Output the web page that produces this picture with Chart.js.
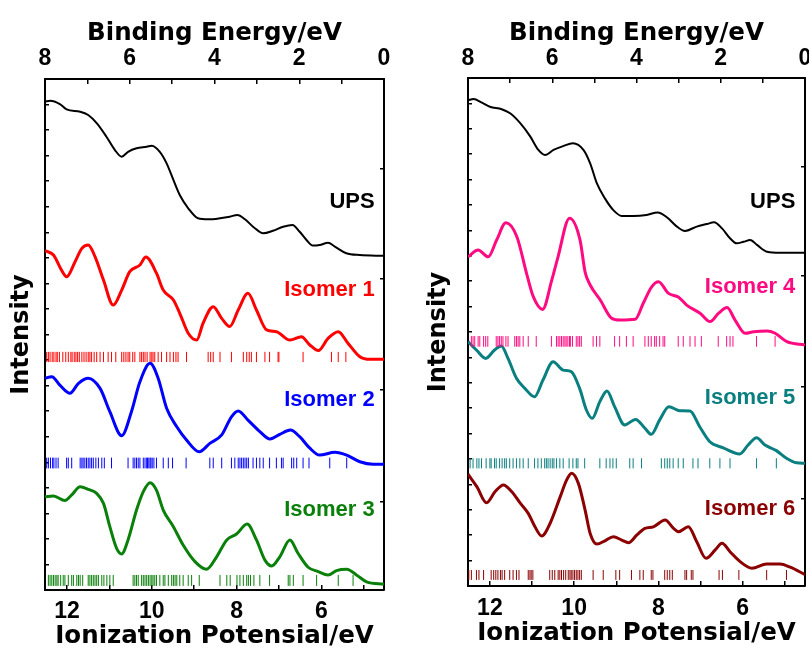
<!DOCTYPE html>
<html><head><meta charset="utf-8">
<script src="https://cdn.jsdelivr.net/npm/chart.js@4"></script>
<style>
html,body{margin:0;padding:0;background:#fff;overflow:hidden;width:809px;height:650px;position:relative;}
canvas{position:absolute;top:0;}
#cL{left:0;}
#cR{left:418px;}
</style></head><body>
<canvas id="cL" width="400" height="650"></canvas>
<canvas id="cR" width="403" height="650"></canvas>
<script>
// ---------- axis definitions ----------
const IP_MIN = 4.52, IP_MAX = 12.52;           // Ionization potential range (eV)
const ipTicks = [5, 6, 7, 8, 9, 10, 11, 12];
const beTicks = [0, 1, 2, 3, 4, 5, 6, 7, 8];    // Binding energy ticks (eV)
const intensityTicks = [0,1,2,3,4,5,6,7,8,9,10,11,12,13,14,15,16,17,18,19,20];
const rightAxisTicks = [3.44, 7.83, 12.2, 16.5];

// ---------- left panel ----------
const upsL_ip  = [12.52,12.40,12.17,12.01,11.69,11.50,11.30,11.07,10.87,10.71,10.56,10.36,10.12,10.00,9.81,9.65,9.49,9.34,9.14,8.91,8.67,8.39,8.16,7.98,7.80,7.61,7.37,7.14,6.90,6.68,6.51,6.35,6.20,6.04,5.84,5.68,5.41,5.09,4.52];
const upsL_int = [19.11,19.15,19.02,18.81,18.72,18.59,18.27,17.74,17.22,16.96,17.15,17.29,17.35,17.39,17.15,16.70,16.05,15.46,14.94,14.55,14.51,14.55,14.61,14.68,14.51,14.22,13.96,14.06,14.22,14.29,14.02,13.70,13.48,13.50,13.59,13.44,13.18,13.11,13.08];

const iso1_ip  = [12.52,12.32,12.13,12.01,11.81,11.65,11.50,11.34,11.14,10.91,10.71,10.52,10.28,10.14,9.89,9.73,9.49,9.34,9.14,8.94,8.79,8.55,8.35,8.16,7.96,7.73,7.53,7.29,7.06,6.74,6.47,6.27,6.07,5.84,5.60,5.37,5.09,4.85,4.52];
const iso1_int = [13.28,13.11,12.52,12.26,12.85,13.37,13.50,13.05,12.13,11.15,11.74,12.46,12.72,13.03,12.40,11.74,11.35,10.83,10.05,9.78,10.44,11.09,10.63,10.31,10.96,11.61,10.96,10.18,10.11,9.78,9.91,9.59,9.37,9.85,10.11,9.66,9.13,9.03,9.03];
const iso1Sticks = [12.48,12.44,12.40,12.35,12.31,12.26,12.23,12.18,12.10,12.03,11.97,11.91,11.88,11.83,11.79,11.75,11.71,11.65,11.60,11.55,11.50,11.46,11.42,11.36,11.30,11.22,11.14,11.03,10.95,10.85,10.71,10.66,10.61,10.56,10.52,10.45,10.40,10.28,10.24,10.20,10.16,10.11,10.04,10.00,9.97,9.93,9.85,9.77,9.65,9.57,9.49,9.43,9.38,9.18,8.67,8.61,8.55,8.39,8.12,7.84,7.76,7.70,7.65,7.53,7.33,7.22,7.02,7.00,6.43,5.76,5.60,5.42];
const iso1StickSpan = [8.92, 9.32];

const iso2_ip  = [12.52,12.36,12.17,11.93,11.73,11.50,11.22,10.99,10.71,10.48,10.28,10.04,9.85,9.65,9.41,9.18,8.88,8.63,8.35,8.12,7.96,7.73,7.45,7.21,6.98,6.73,6.51,6.27,6.04,5.68,5.40,5.09,4.78,4.52];
const iso2_int = [8.29,8.35,8.02,7.70,8.09,8.29,7.89,6.98,6.04,6.98,8.15,8.87,8.29,7.11,6.39,5.87,5.41,5.74,6.07,6.78,7.01,6.65,6.20,5.91,6.09,6.26,6.00,5.55,5.28,5.39,5.28,5.02,4.92,4.92];
const iso2Sticks = [12.48,12.44,12.39,12.34,12.31,12.26,12.21,12.01,11.97,11.89,11.69,11.65,11.62,11.58,11.54,11.50,11.46,11.42,11.38,11.32,11.26,11.18,11.12,10.95,10.56,10.44,10.40,10.36,10.32,10.28,10.20,10.16,10.12,10.10,10.07,10.04,10.02,9.99,9.95,9.89,9.73,9.61,9.51,9.19,8.63,8.55,8.35,8.12,8.04,7.96,7.92,7.88,7.84,7.80,7.76,7.72,7.61,7.53,7.45,7.37,7.22,7.06,6.94,6.90,6.70,6.65,6.58,6.43,6.29,5.80,5.40];
const iso2StickSpan = [4.76, 5.18];

const iso3_ip  = [12.52,12.32,12.05,11.89,11.69,11.50,11.30,11.14,10.99,10.83,10.71,10.56,10.36,10.20,10.04,9.89,9.73,9.49,9.26,8.98,8.71,8.47,8.23,8.00,7.75,7.53,7.33,7.17,6.98,6.74,6.55,6.31,6.07,5.84,5.64,5.40,5.17,4.93,4.52];
const iso3_int = [3.65,3.68,3.50,3.72,4.04,3.94,3.78,3.39,2.48,1.63,1.41,1.96,3.13,3.85,4.20,3.91,3.13,2.48,1.76,1.11,0.81,1.30,1.96,2.19,2.58,1.96,1.17,0.94,1.30,1.96,1.44,0.89,0.72,0.59,0.76,0.81,0.59,0.32,0.23];
const iso3Sticks = [12.44,12.40,12.36,12.32,12.28,12.24,12.21,12.15,12.09,12.05,11.97,11.89,11.85,11.77,11.73,11.69,11.63,11.50,11.46,11.42,11.38,11.34,11.30,11.26,11.18,11.13,11.06,10.99,10.91,10.44,10.40,10.36,10.32,10.24,10.20,10.16,10.12,10.08,10.04,10.00,9.97,9.93,9.89,9.81,9.73,9.69,9.61,9.53,9.49,9.45,9.41,9.34,9.26,9.14,9.06,8.88,8.39,8.23,8.15,7.99,7.92,7.84,7.76,7.72,7.67,7.59,7.45,7.22,6.78,6.74,6.66,6.43,6.11,5.60,5.25];
const iso3StickSpan = [0.16, 0.59];

// ---------- right panel ----------
const upsR_ip  = [12.52,12.39,12.19,12.00,11.72,11.52,11.28,11.04,10.85,10.69,10.49,10.26,10.03,9.78,9.62,9.46,9.27,9.07,8.87,8.59,8.28,8.02,7.80,7.56,7.37,7.09,6.85,6.68,6.49,6.30,6.14,5.98,5.82,5.66,5.42,5.11,4.52];
const upsR_int = [19.13,19.17,19.03,18.87,18.77,18.61,18.22,17.69,17.17,16.97,17.17,17.32,17.43,17.17,16.64,15.85,15.26,14.80,14.57,14.57,14.61,14.70,14.52,14.15,13.98,14.15,14.25,14.32,14.08,13.69,13.49,13.55,13.62,13.43,13.16,13.12,13.12];

const iso4_ip  = [12.52,12.28,12.04,11.84,11.62,11.36,11.13,10.97,10.75,10.53,10.39,10.11,9.86,9.74,9.62,9.38,9.11,8.91,8.55,8.36,8.16,8.00,7.76,7.52,7.33,7.01,6.77,6.57,6.37,6.18,5.94,5.74,5.42,5.23,4.95,4.52];
const iso4_int = [12.96,13.23,12.96,13.62,14.30,13.75,12.31,11.39,10.89,12.05,12.91,14.48,13.62,12.36,11.85,11.26,10.54,10.47,10.50,11.13,11.78,11.98,11.52,11.37,11.06,10.74,10.41,10.74,10.96,10.47,9.95,10.01,10.04,9.95,9.62,9.49];
const iso4Sticks = [12.44,12.40,12.36,12.28,12.24,12.15,12.10,12.05,11.85,11.81,11.77,11.73,11.69,11.62,11.57,11.41,11.37,11.33,11.29,11.21,11.09,10.90,10.54,10.42,10.38,10.34,10.30,10.26,10.22,10.19,10.15,10.11,10.09,10.04,9.95,9.91,9.87,9.83,9.55,9.47,9.39,9.04,8.92,8.76,8.60,8.32,8.24,8.17,8.09,8.05,7.97,7.89,7.85,7.53,7.41,7.25,7.13,6.98,6.58,6.38,6.30,6.23,5.67,5.23];
const iso4StickSpan = [9.42, 9.84];

const iso5_ip  = [12.52,12.32,12.10,11.89,11.73,11.57,11.37,11.17,10.94,10.74,10.50,10.26,10.07,9.87,9.71,9.57,9.39,9.22,9.04,8.80,8.54,8.32,8.17,7.97,7.75,7.49,7.25,7.02,6.78,6.46,6.07,5.87,5.67,5.47,5.20,4.96,4.72,4.52];
const iso5_int = [9.62,9.29,8.96,9.29,9.45,8.96,8.18,7.78,7.45,8.11,8.83,8.50,8.44,7.78,6.93,6.60,7.26,7.68,7.06,6.34,6.56,6.21,5.97,6.54,7.06,6.90,6.89,6.27,5.68,5.44,5.20,5.55,5.84,5.55,5.33,5.03,4.85,4.83];
const iso5Sticks = [12.47,12.40,12.31,12.26,12.20,12.09,12.00,11.97,11.89,11.85,11.77,11.71,11.65,11.61,11.53,11.45,11.37,11.29,11.21,11.09,10.94,10.86,10.78,10.70,10.66,10.62,10.57,10.52,10.48,10.42,10.34,10.26,10.12,10.03,9.95,9.91,9.75,9.39,9.24,9.15,9.08,9.00,8.68,8.60,8.40,7.93,7.85,7.79,7.73,7.65,7.53,7.41,7.18,7.06,6.78,6.54,6.30,5.67,5.20];
const iso5StickSpan = [4.63, 5.03];

const iso6_ip  = [12.52,12.31,12.08,11.88,11.68,11.48,11.28,11.09,10.93,10.77,10.57,10.33,10.18,10.06,9.90,9.74,9.62,9.46,9.27,9.07,8.87,8.71,8.51,8.32,8.12,7.84,7.64,7.52,7.29,7.09,6.87,6.65,6.49,6.30,6.06,5.78,5.43,5.11,4.87,4.52];
const iso6_int = [4.40,3.91,3.28,3.71,3.98,3.71,3.26,2.86,2.33,1.97,2.47,3.52,4.17,4.44,4.04,2.99,2.07,1.65,1.78,1.94,1.81,1.70,2.01,2.27,2.33,2.60,2.27,2.14,2.33,1.74,1.09,1.42,1.68,1.35,0.96,0.70,0.87,0.87,0.74,0.45];
const iso6Sticks = [12.50,12.44,12.32,12.26,12.15,11.97,11.91,11.86,11.81,11.75,11.71,11.65,11.53,11.45,11.37,11.31,11.09,11.05,11.02,10.98,10.58,10.52,10.46,10.38,10.34,10.30,10.25,10.20,10.14,10.10,10.07,10.03,9.99,9.95,9.91,9.87,9.83,9.55,9.31,9.01,8.92,8.64,8.44,8.36,8.17,8.13,7.85,7.79,7.73,7.67,7.37,7.33,7.22,7.18,6.56,6.48,6.09,5.43,4.96];
const iso6StickSpan = [0.24, 0.63];

// ---------- helpers ----------
const COLORS = {ups:'#000000', i1:'#ff0000', i2:'#0000ff', i3:'#0a800a', i4:'#ff0a80', i5:'#0a7f80', i6:'#8b0000'};

function curve(ip, val, color, width) {
  return {data: ip.map((x, i) => ({x, y: val[i]})), borderColor: color, borderWidth: width,
          pointRadius: 0, fill: false, cubicInterpolationMode: 'monotone', spanGaps: false};
}
function sticks(ip, span, color) {
  const d = [];
  ip.forEach(e => { d.push({x: e, y: span[0]}, {x: e, y: span[1]}, {x: e, y: null}); });
  return {data: d, borderColor: color, borderWidth: 1, pointRadius: 0, fill: false, tension: 0, spanGaps: false};
}
function labelPlugin(items) {
  return {
    id: 'seriesLabels',
    afterDatasetsDraw(chart) {
      const {ctx} = chart, xs = chart.scales.x, ys = chart.scales.y;
      ctx.save();
      ctx.font = "bold 22px 'Liberation Sans', Arial, sans-serif";
      ctx.textAlign = 'right';
      ctx.textBaseline = 'middle';
      items.forEach(it => {
        ctx.fillStyle = it.color;
        ctx.fillText(it.text, xs.getPixelForValue(it.ip), ys.getPixelForValue(it.v));
      });
      ctx.restore();
    }
  };
}

function panel(id, g, datasets, labels) {
  const titleFont = {family: "'DejaVu Sans', sans-serif", weight: 'bold', size: 24.5, lineHeight: 1};
  const tickFont = {family: "'Liberation Sans Narrow', 'Liberation Sans', Arial, sans-serif", weight: 'bold', size: 23, lineHeight: 1};
  const grid = {drawOnChartArea: false, drawTicks: true, color: '#000', lineWidth: 1.5};
  const border = {display: true, color: '#000', width: 2};
  return new Chart(document.getElementById(id), {
    type: 'line',
    data: {datasets},
    plugins: [labelPlugin(labels)],
    options: {
      responsive: false, animation: false, devicePixelRatio: 1,
      layout: {padding: 0},
      plugins: {legend: {display: false}, tooltip: {enabled: false}},
      scales: {
        x: {type: 'linear', position: 'bottom', display: true, min: IP_MIN, max: IP_MAX, reverse: true,
            afterBuildTicks: s => { s.ticks = ipTicks.map(v => ({value: v})); },
            ticks: {autoSkip: false, maxRotation: 0, minRotation: 0, padding: g.botTickPad, color: '#000', font: tickFont,
                    callback: v => (v % 2 === 0 ? String(v) : '')},
            grid: {...grid, tickLength: -5}, border,
            title: {display: true, text: 'Ionization Potensial/eV', color: '#000', font: titleFont, padding: {top: 0, bottom: g.botTitlePad}},
            afterFit: s => { s.height = g.botH; }},
        x2: {type: 'linear', position: 'top', display: true, min: 0, max: 8, reverse: true,
            afterBuildTicks: s => { s.ticks = beTicks.map(v => ({value: v})); },
            ticks: {autoSkip: false, maxRotation: 0, minRotation: 0, padding: g.topTickPad, color: '#000', font: tickFont,
                    callback: v => (v % 2 === 0 ? String(v) : '')},
            grid: {...grid, tickLength: -5}, border,
            title: {display: true, text: 'Binding Energy/eV', color: '#000', font: titleFont, padding: {top: g.topTitlePad, bottom: 0}},
            afterFit: s => { s.height = g.topH; }},
        y: {type: 'linear', position: 'left', display: true, min: 0, max: 20,
            afterBuildTicks: s => { s.ticks = intensityTicks.map(v => ({value: v})); },
            ticks: {display: false},
            grid: {...grid, tickLength: -4}, border,
            title: {display: true, text: 'Intensity', color: '#000', font: {...titleFont, size: 24}, padding: {top: g.yTitlePad, bottom: 0}},
            afterFit: s => { s.width = g.leftW; }},
        y2: {type: 'linear', position: 'right', display: true, min: 0, max: 20,
            afterBuildTicks: s => { s.ticks = rightAxisTicks.map(v => ({value: v})); },
            ticks: {display: false},
            grid: {...grid, tickLength: -4}, border,
            afterFit: s => { s.width = g.rightW; }}
      }
    }
  });
}

panel('cL',
  {leftW: 45, rightW: 16, topH: 79, botH: 60, topTickPad: 14, botTickPad: 15, topTitlePad: 21, botTitlePad: 1, yTitlePad: 9.5},
  [
    sticks(iso1Sticks, iso1StickSpan, COLORS.i1),
    sticks(iso2Sticks, iso2StickSpan, COLORS.i2),
    sticks(iso3Sticks, iso3StickSpan, COLORS.i3),
    curve(upsL_ip, upsL_int, COLORS.ups, 2),
    curve(iso1_ip, iso1_int, COLORS.i1, 3),
    curve(iso2_ip, iso2_int, COLORS.i2, 3),
    curve(iso3_ip, iso3_int, COLORS.i3, 3)
  ],
  [
    {text: 'UPS', color: COLORS.ups, ip: 4.74, v: 15.19},
    {text: 'Isomer 1', color: COLORS.i1, ip: 4.74, v: 11.74},
    {text: 'Isomer 2', color: COLORS.i2, ip: 4.74, v: 7.44},
    {text: 'Isomer 3', color: COLORS.i3, ip: 4.74, v: 3.13}
  ]);

panel('cR',
  {leftW: 50, rightW: 16, topH: 78, botH: 64, topTickPad: 13, botTickPad: 16, topTitlePad: 21, botTitlePad: 4, yTitlePad: 9},
  [
    sticks(iso4Sticks, iso4StickSpan, COLORS.i4),
    sticks(iso5Sticks, iso5StickSpan, COLORS.i5),
    sticks(iso6Sticks, iso6StickSpan, COLORS.i6),
    curve(upsR_ip, upsR_int, COLORS.ups, 2),
    curve(iso4_ip, iso4_int, COLORS.i4, 3),
    curve(iso5_ip, iso5_int, COLORS.i5, 3),
    curve(iso6_ip, iso6_int, COLORS.i6, 3)
  ],
  [
    {text: 'UPS', color: COLORS.ups, ip: 4.75, v: 15.14},
    {text: 'Isomer 4', color: COLORS.i4, ip: 4.75, v: 11.79},
    {text: 'Isomer 5', color: COLORS.i5, ip: 4.75, v: 7.42},
    {text: 'Isomer 6', color: COLORS.i6, ip: 4.75, v: 3.03}
  ]);
</script>
</body></html>
